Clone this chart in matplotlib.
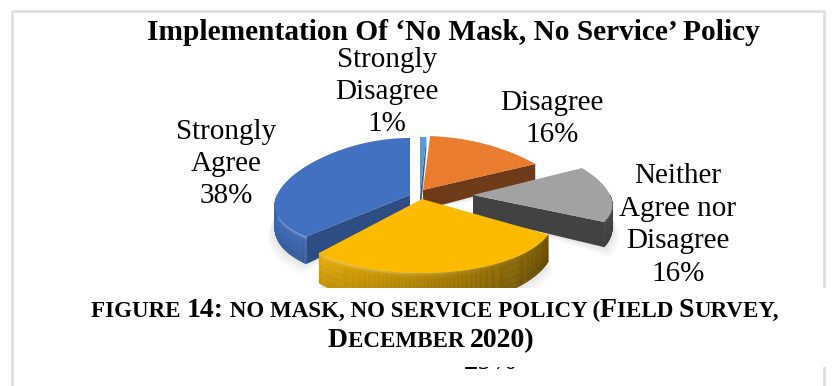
import matplotlib
matplotlib.use('Agg')
import matplotlib.pyplot as plt
from matplotlib.collections import PolyCollection
from matplotlib.colors import to_rgb
from matplotlib.patches import Polygon, Rectangle
import numpy as np

# survey shares, clockwise from twelve o'clock
categories = ['Strongly\nDisagree', 'Disagree', 'Neither\nAgree nor\nDisagree', 'Agree', 'Strongly\nAgree']
values = [1, 16, 16, 29, 38]
colors = ['#5b9bd5', '#ea7c30', '#a2a2a2', '#fdbb00', '#4271c2']

title = 'Implementation Of \u2018No Mask, No Service\u2019 Policy'
caption_line1 = [('FIGURE ', 0), ('14:', 1), (' NO MASK, NO SERVICE POLICY (', 0), ('F', 1), ('IELD ', 0),
                 ('S', 1), ('URVEY,', 0)]
caption_line2 = [('D', 1), ('ECEMBER ', 0), ('2020)', 1)]

# apex x, apex y, radius x, radius y for each exploded wedge (pixels)
wedge_geom = [(420, 196, 125, 59),
              (423, 190, 141, 54),
              (473, 195, 137, 56),
              (422, 199, 132, 74),
              (410, 195, 133, 57)]
cut_shade = [0.6, 0.47, 0.41, 0.6, 0.68]
PERSP = 0.19

W, H = 833, 386
SERIF = 'Liberation Serif'


def rim(geom, t):
    # t in degrees clockwise from the top, on the tilted disc
    cx, cy, rx, ry = geom
    t = np.radians(t)
    dy = -np.cos(t)
    return cx + rx * np.sin(t) * (1 + PERSP * dy), cy + ry * dy


def depth(y):
    # the slab looks thicker nearer the viewer
    return 20 + (y - 190) * 0.16


def shade(color, f):
    c = np.array(to_rgb(color))
    if f < 1:
        return tuple(c * f)
    return tuple(c + (1 - c) * (f - 1))


def draw_shadow(ax, geom, start, end, z):
    cx, cy = geom[0], geom[1]
    ts = np.linspace(start, end, 60)
    xs, ys = rim(geom, ts)
    for grow in [10, 8, 6, 4, 2]:
        px = [cx, *(cx + (xs - cx) * (1 + grow / 200))]
        py = [cy + 20, *(ys + depth(ys) + grow)]
        ax.add_patch(Polygon(list(zip(px, py)), closed=True, fc='black', alpha=0.018, ec='none', zorder=z))


def draw_wedge(ax, geom, start, end, color, cut, z):
    cx, cy = geom[0], geom[1]
    ts = np.linspace(start, end, max(int(end - start) * 2, 4))
    xs, ys = rim(geom, ts)

    # flat cut faces, only the ones that turn towards the viewer
    faces = []
    if np.sin(np.radians(start)) < 0:
        faces.append((xs[0], ys[0]))
    if np.sin(np.radians(end)) > 0:
        faces.append((xs[-1], ys[-1]))
    for xe, ye in faces:
        pts = [(cx, cy), (xe, ye), (xe, ye + depth(ye)), (cx, cy + depth(cy))]
        ax.add_patch(Polygon(pts, closed=True, fc=shade(color, cut), ec='none', zorder=z))

    # outer wall, banded so the rim catches light and the far side falls dark
    quads, fills = [], []
    bands = np.array([0, 0.06, 0.12, 0.2, 0.4, 0.6, 0.8, 1.0])
    band_f = [0.35, 0.12, 0.0, 0.96, 0.93, 0.9, 0.86]
    for i in range(len(ts) - 1):
        mid = (ts[i] + ts[i + 1]) / 2
        if not 90 < mid < 270:
            continue
        light = np.interp(np.sin(np.radians(mid)), [-1, 1], [1.0, 0.42])
        d0, d1 = depth(ys[i]), depth(ys[i + 1])
        for b in range(len(bands) - 1):
            quads.append([(xs[i], ys[i] + bands[b] * d0), (xs[i + 1], ys[i + 1] + bands[b] * d1),
                          (xs[i + 1], ys[i + 1] + bands[b + 1] * d1), (xs[i], ys[i] + bands[b + 1] * d0)])
            if b < 3:
                # top bands lean towards white, less so on the dark side
                base = np.array(shade(color, light))
                glow = band_f[b] * (light - 0.42) / 0.58
                fills.append(tuple(base + (1 - base) * glow))
            else:
                fills.append(shade(color, band_f[b] * light))
    if quads:
        ax.add_collection(PolyCollection(quads, facecolors=fills, edgecolors=fills, linewidths=0.3, zorder=z + 0.1))

    ax.add_patch(Polygon(list(zip([cx, *xs], [cy, *ys])), closed=True, fc=color, ec='none', zorder=z + 0.2))


def runs_text(ax, fig, runs, y, big, small, center):
    # small-caps line built from separate runs, centred on the given x
    r = fig.canvas.get_renderer()
    items = []
    for s, is_big in runs:
        t = ax.text(0, y, s, family=SERIF, weight='bold', fontsize=big if is_big else small, va='baseline',
                    ha='left', color='black', zorder=30)
        items.append((t, t.get_window_extent(r).width))
    x = center - sum(i[1] for i in items) / 2
    for t, w in items:
        t.set_x(x)
        x += w


fig = plt.figure(figsize=(W / 100, H / 100), dpi=100)
ax = fig.add_axes([0, 0, 1, 1])
ax.set_xlim(0, W)
ax.set_ylim(H, 0)
ax.axis('off')

# chart frame
ax.add_patch(Rectangle((12.5, 10.5), 811.5, 500, fc='none', ec='#dedede', lw=2, zorder=1))

# wedge angles come straight from the shares
edges = np.concatenate([[0], np.cumsum(values)]) * 3.6
draw_order = [0, 1, 2, 4, 3]
for i in draw_order:
    draw_shadow(ax, wedge_geom[i], edges[i], edges[i + 1], 2)
for n, i in enumerate(draw_order):
    draw_wedge(ax, wedge_geom[i], edges[i], edges[i + 1], colors[i], cut_shade[i], 5 + n)

label_pos = [(387, 92), (552, 119), (678, 225), (490, 346), (226, 164)]
for name, v, (lx, ly) in zip(categories, values, label_pos):
    ax.text(lx, ly, f'{name}\n{v}%', family=SERIF, fontsize=21, ha='center', va='center',
            linespacing=1.32, color='black', zorder=12)

ax.text(453, 32, title, family=SERIF, weight='bold', fontsize=21.2, ha='center', va='center', zorder=20)

# caption block sits over the lower part of the chart
ax.add_patch(Rectangle((15, 288), W, 79, fc='white', ec='none', zorder=15))
fig.canvas.draw()
runs_text(ax, fig, caption_line1, 317, 20, 16.6, 435)
runs_text(ax, fig, caption_line2, 347, 20, 16.6, 431)

fig.savefig('out.png', dpi=100)
